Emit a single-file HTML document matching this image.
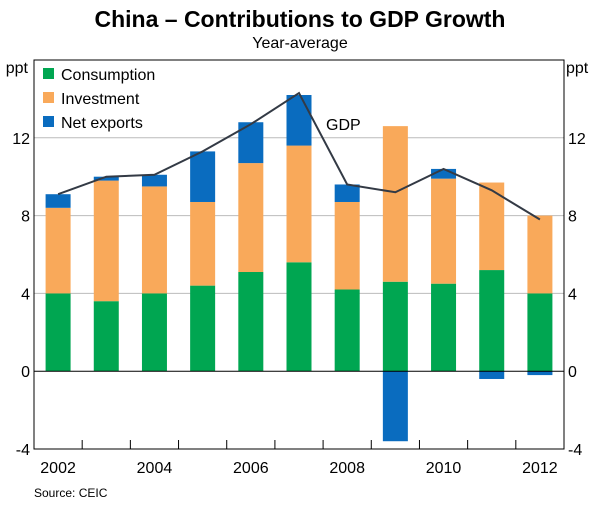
<!DOCTYPE html>
<html><head><meta charset="utf-8"><style>
body{margin:0;background:#fff;font-family:"Liberation Sans",Arial,sans-serif;}
</style></head><body>
<svg width="600" height="500" xmlns="http://www.w3.org/2000/svg" font-family="Liberation Sans, Arial, sans-serif">
<text x="300" y="27" text-anchor="middle" font-size="23" font-weight="bold" fill="#000">China – Contributions to GDP Growth</text>
<text x="300" y="48" text-anchor="middle" font-size="16" fill="#000">Year-average</text>
<g id="grid"></g>
<g id="bars"></g>
<g id="line"></g>
<g id="axes"></g>
<g>
<rect x="43" y="68" width="11" height="11" fill="#00a651"/>
<text x="61" y="80" font-size="16">Consumption</text>
<rect x="43" y="92" width="11" height="11" fill="#f9a95a"/>
<text x="61" y="104" font-size="16">Investment</text>
<rect x="43" y="116" width="11" height="11" fill="#0a6cbf"/>
<text x="61" y="128" font-size="16">Net exports</text>
</g>
<text x="326" y="130" font-size="16">GDP</text>
<text x="34" y="497" font-size="12">Source: CEIC</text>
</svg>
<script>
const years=[2002,2003,2004,2005,2006,2007,2008,2009,2010,2011,2012];
const consumption=[4.0,3.6,4.0,4.4,5.1,5.6,4.2,4.6,4.5,5.2,4.0];
const investment=[4.4,6.2,5.5,4.3,5.6,6.0,4.5,8.0,5.4,4.5,4.0];
const netExports=[0.7,0.2,0.6,2.6,2.1,2.6,0.9,-3.6,0.5,-0.4,-0.2];
const gdp=[9.1,10.0,10.1,11.3,12.7,14.3,9.6,9.2,10.4,9.3,7.8];
const yTicks=[-4,0,4,8,12];
const xLabels=[2002,2004,2006,2008,2010,2012];
const NS="http://www.w3.org/2000/svg";
const L=34,R=564,T=60,B=449,yMin=-4,yMax=16;
const step=(R-L)/years.length;
const y=v=>B-(v-yMin)/(yMax-yMin)*(B-T);
const xc=i=>L+step*(i+0.5);
function mk(tag,attrs,parent){const e=document.createElementNS(NS,tag);for(const k in attrs)e.setAttribute(k,attrs[k]);document.getElementById(parent).appendChild(e);return e;}
yTicks.forEach(t=>{if(t!==0&&t!==-4){const g=mk('line',{x1:L,x2:R,y1:y(t),y2:y(t),stroke:'#bbb','stroke-width':1},'grid');}});
const bw=25;
years.forEach((yr,i)=>{
 const segs=[[0,consumption[i],'#00a651','consumption'],[consumption[i],consumption[i]+investment[i],'#f9a95a','investment']];
 const top=consumption[i]+investment[i];
 if(netExports[i]>=0)segs.push([top,top+netExports[i],'#0a6cbf','net-exports']);else segs.push([netExports[i],0,'#0a6cbf','net-exports']);
 segs.forEach(s=>{const r=mk('rect',{x:xc(i)-bw/2,y:y(Math.max(s[0],s[1])),width:bw,height:Math.abs(y(s[0])-y(s[1])),fill:s[2]},'bars');
 
 });
});
const pl=mk('polyline',{points:gdp.map((v,i)=>xc(i)+','+y(v)).join(' '),fill:'none',stroke:'#333a45','stroke-width':2},'line');


const fr=mk('rect',{x:L,y:T,width:R-L,height:B-T,fill:'none',stroke:'#000','stroke-width':1},'axes');


const z=mk('line',{x1:L,x2:R,y1:y(0),y2:y(0),stroke:'#000','stroke-width':1},'axes');


for(let i=1;i<years.length;i++){const t=mk('line',{x1:L+step*i,x2:L+step*i,y1:B,y2:B-9,stroke:'#000'},'axes');}
yTicks.forEach(t=>{
 const a=mk('text',{x:L-4,y:y(t)+6,'text-anchor':'end','font-size':16},'axes');a.textContent=t;
 
 
 const b=mk('text',{x:R+4,y:y(t)+6,'font-size':16},'axes');b.textContent=t;
 
 
});
[['ppt',1,'end'],['ppt',R+2,'start']].forEach((p,k)=>{const e=mk('text',{x:k?p[1]:28,y:73,'text-anchor':k?'start':'end','font-size':16},'axes');e.textContent=p[0];

});
xLabels.forEach(yr=>{const i=years.indexOf(yr);const e=mk('text',{x:xc(i),y:473,'text-anchor':'middle','font-size':16},'axes');e.textContent=yr;

});
</script>
</body></html>
